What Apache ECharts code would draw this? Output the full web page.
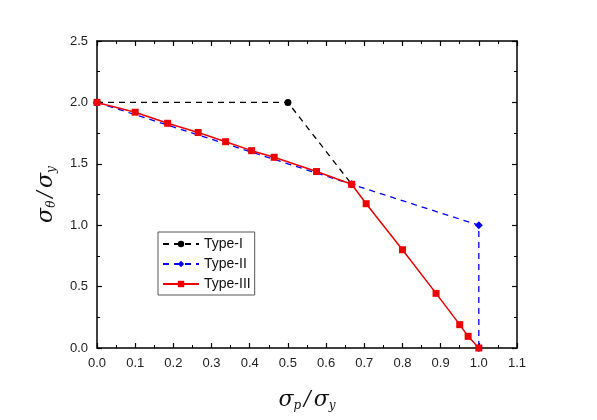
<!DOCTYPE html>
<html>
<head>
<meta charset="utf-8">
<script src="https://cdn.jsdelivr.net/npm/echarts@6/dist/echarts.min.js"></script>
<style>
  html, body { margin: 0; padding: 0; background: #fff; }
  #main { width: 597px; height: 420px; }
</style>
</head>
<body>
<div id="main"></div>
<script>
// data
var typeI = [[0, 2.0], [0.5, 2.0], [0.667, 1.333]];
var typeII = [[0, 2.0], [0.667, 1.333], [1.0, 1.0], [1.0, 0.0]];
var typeIII = [[0, 2.0], [0.1, 1.92], [0.185, 1.83], [0.265, 1.755], [0.337, 1.68],
  [0.405, 1.607], [0.464, 1.553], [0.575, 1.437], [0.667, 1.333], [0.705, 1.175],
  [0.8, 0.8], [0.888, 0.445], [0.95, 0.19], [0.972, 0.095], [1.0, 0.0]];
var xTicks = [0, 1.1, 0.1];
var yTicks = [0, 2.5, 0.5];

var myChart = echarts.init(document.getElementById('main'));

var lbl = { color: '#222', fontSize: 13, fontFamily: 'Liberation Sans, Arial, sans-serif' };
var axLine = { onZero: false, lineStyle: { color: '#000', width: 1.5 } };
var tick = { inside: true, length: 5, lineStyle: { color: '#000', width: 1.2 } };
var minor = { show: true, splitNumber: 2, length: 3, lineStyle: { color: '#000', width: 1 } };
var nameRich = {
  s: { fontFamily: 'DejaVu Serif, serif', fontStyle: 'italic', fontSize: 22, color: '#111' },
  sub: { fontFamily: 'DejaVu Serif, serif', fontStyle: 'italic', fontSize: 12, color: '#111', padding: [12, 0, 0, 0] },
  sl: { fontFamily: 'DejaVu Serif, serif', fontStyle: 'italic', fontSize: 20, color: '#111', padding: [0, 3, 0, 3] }
};

function fmt(v) { return v.toFixed(1); }

option = {
  backgroundColor: '#fff',
  animation: false,
  grid: { left: 97, right: 80, top: 41, bottom: 72 },
  legend: {
    orient: 'vertical',
    left: 158,
    top: 232,
    itemWidth: 36,
    itemHeight: 8,
    itemGap: 6,
    padding: [5, 4, 4, 4],
    borderColor: '#555',
    borderWidth: 1,
    textStyle: { fontSize: 14, color: '#111', fontFamily: 'Liberation Sans, Arial, sans-serif' },
    data: ['Type-I', 'Type-II', 'Type-III']
  },
  xAxis: [{
    type: 'value', min: xTicks[0], max: xTicks[1], interval: xTicks[2],
    position: 'bottom',
    name: '{s|σ}{sub|p}{sl|/}{s|σ}{sub|y}',
    nameLocation: 'middle', nameGap: 40,
    nameTextStyle: { rich: nameRich },
    axisLine: axLine, axisTick: tick, minorTick: minor,
    splitLine: { show: false },
    axisLabel: Object.assign({ formatter: fmt, margin: 9 }, lbl)
  }, {
    type: 'value', min: xTicks[0], max: xTicks[1], interval: xTicks[2],
    position: 'top',
    axisLine: axLine, axisTick: tick, minorTick: minor,
    splitLine: { show: false }, axisLabel: { show: false }
  }],
  yAxis: [{
    type: 'value', min: yTicks[0], max: yTicks[1], interval: yTicks[2],
    position: 'left',
    name: '{s|σ}{sub|θ}{sl|/}{s|σ}{sub|y}',
    nameLocation: 'middle', nameGap: 39, nameRotate: 90,
    nameTextStyle: { rich: nameRich },
    axisLine: axLine, axisTick: tick, minorTick: minor,
    splitLine: { show: false },
    axisLabel: Object.assign({ formatter: fmt, margin: 9 }, lbl)
  }, {
    type: 'value', min: yTicks[0], max: yTicks[1], interval: yTicks[2],
    position: 'right',
    axisLine: axLine, axisTick: tick, minorTick: minor,
    splitLine: { show: false }, axisLabel: { show: false }
  }],
  series: [
    {
      name: 'Type-I', type: 'line', data: typeI,
      symbol: 'circle', symbolSize: 7,
      lineStyle: { color: '#000', width: 1.3, type: [6, 5] },
      itemStyle: { color: '#000' }
    },
    {
      name: 'Type-II', type: 'line', data: typeII,
      symbol: 'diamond', symbolSize: 8,
      lineStyle: { color: '#0000ee', width: 1.3, type: [6, 5] },
      itemStyle: { color: '#0000ee' }
    },
    {
      name: 'Type-III', type: 'line', data: typeIII,
      symbol: 'rect', symbolSize: 7,
      lineStyle: { color: '#ee0000', width: 1.5 },
      itemStyle: { color: '#ee0000' }
    }
  ]
};

myChart.setOption(option);
</script>
</body>
</html>
